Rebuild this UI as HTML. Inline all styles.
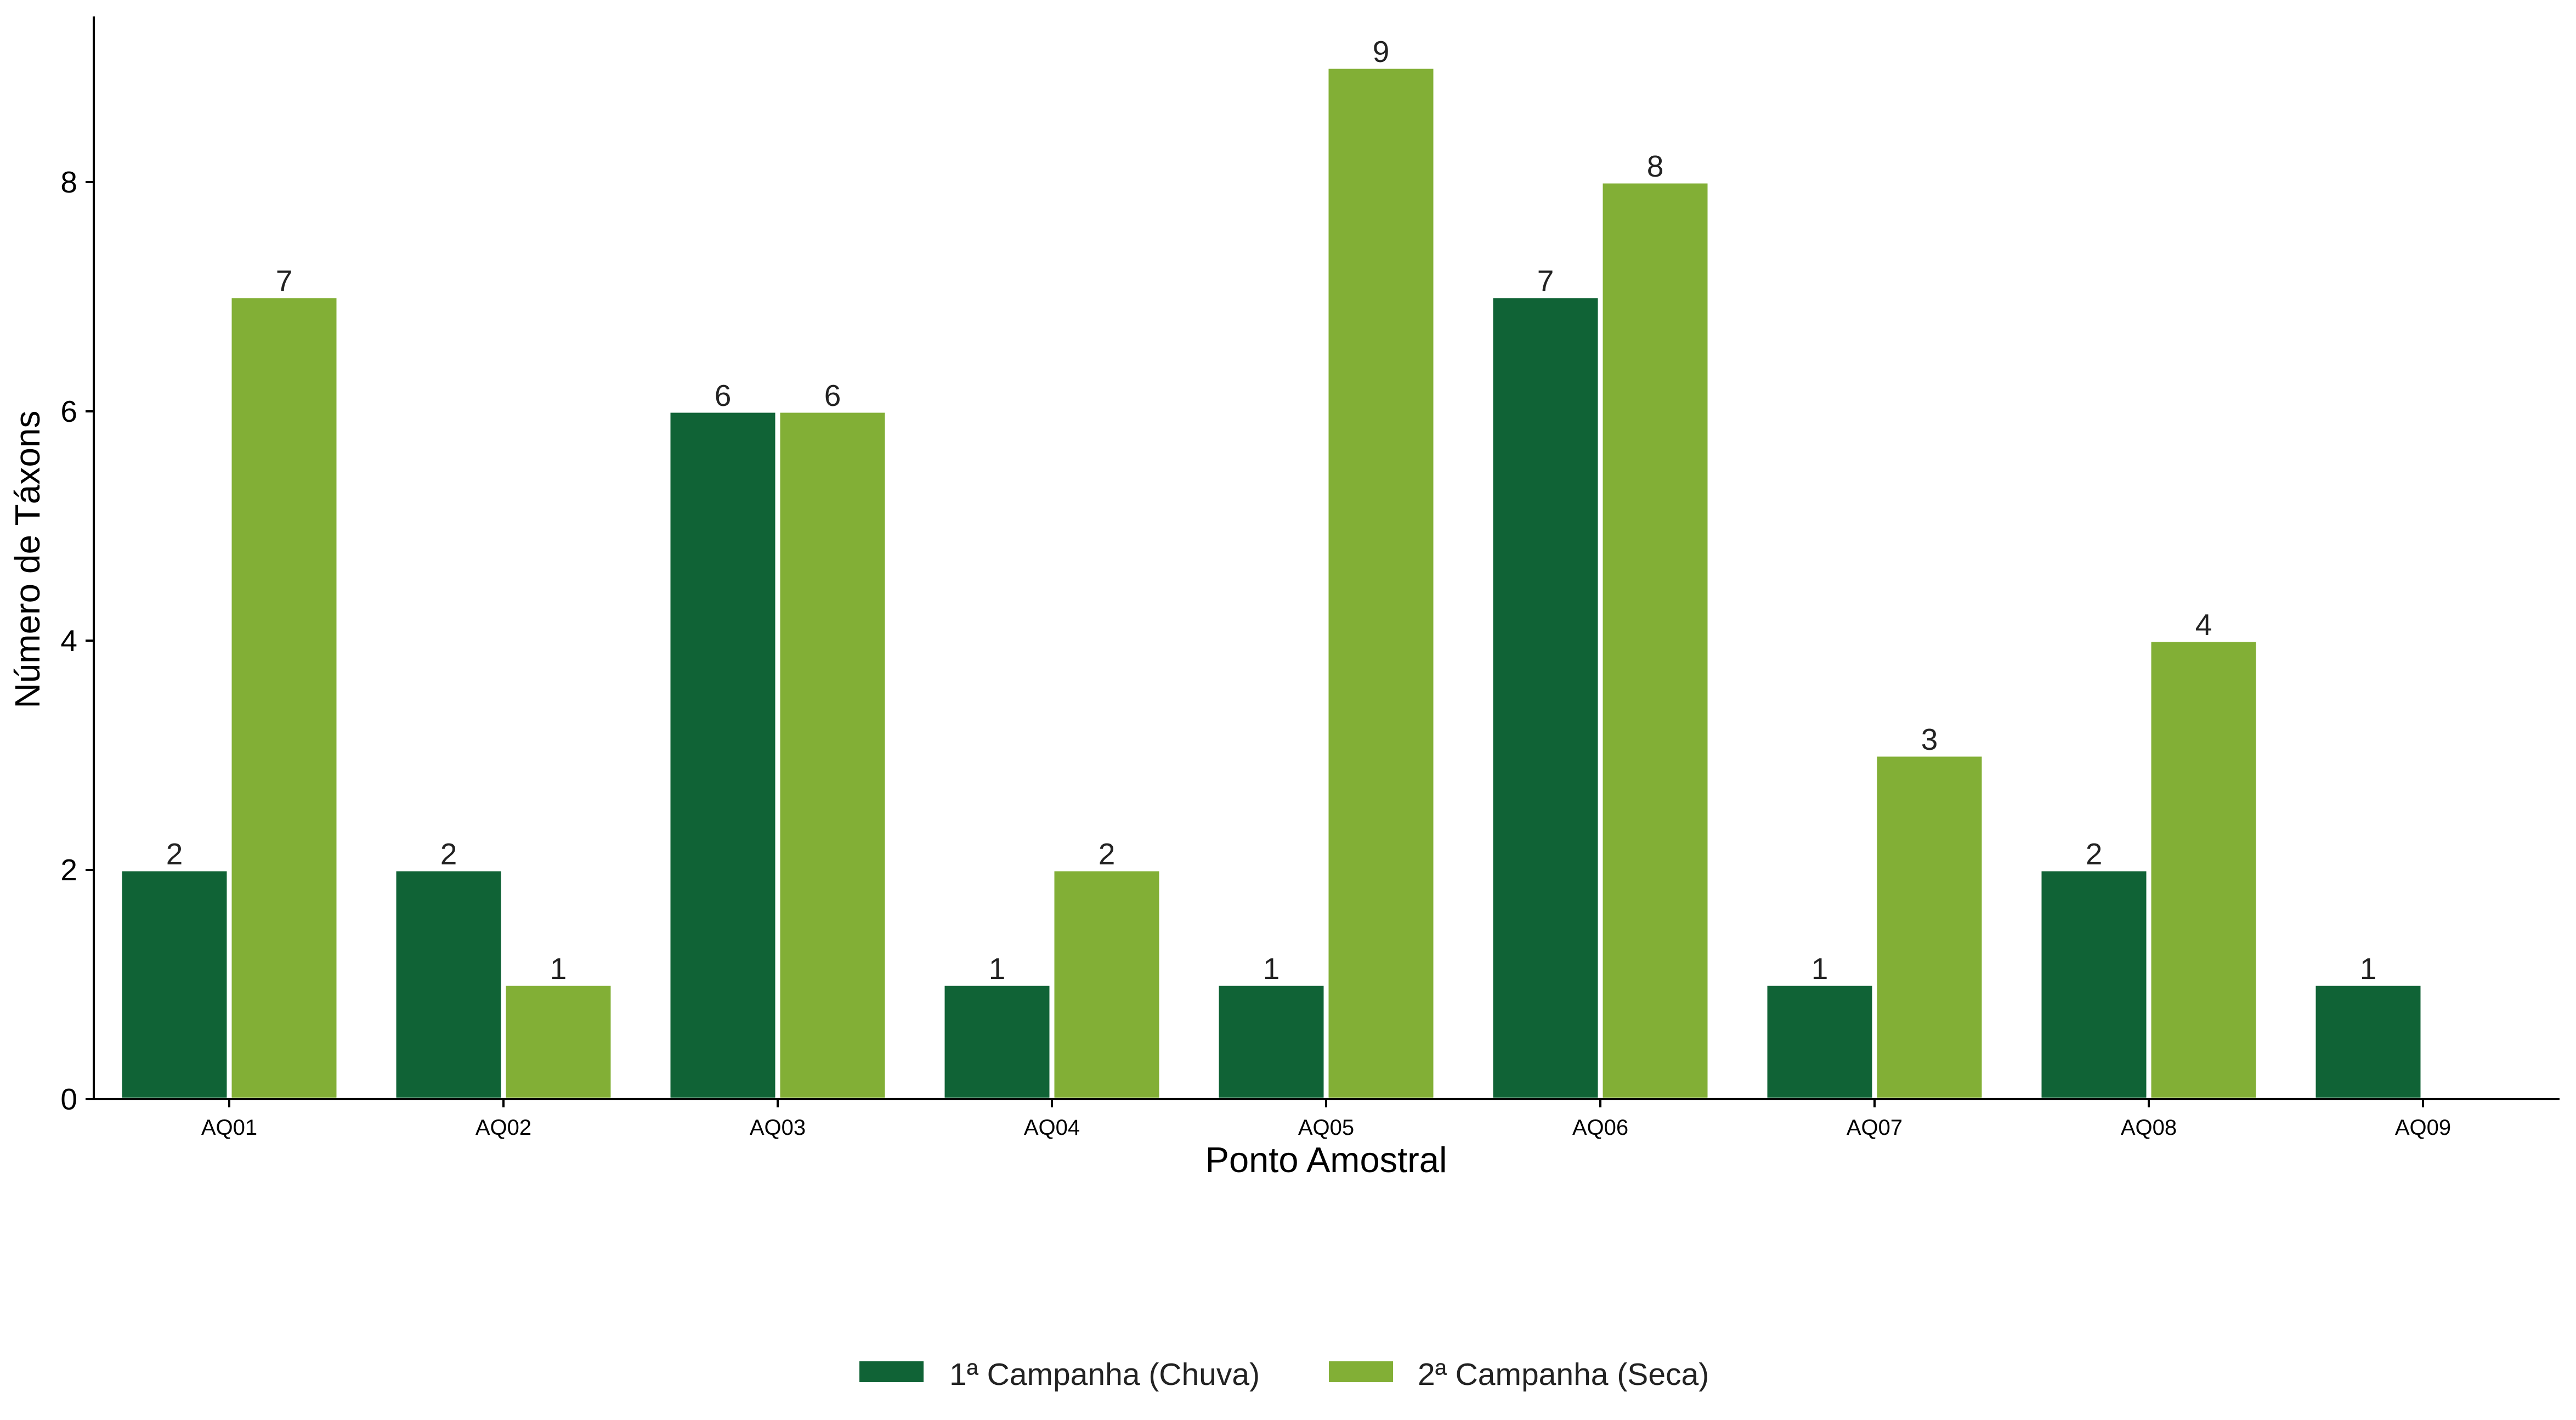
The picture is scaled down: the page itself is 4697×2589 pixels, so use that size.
<!DOCTYPE html>
<html><head><meta charset="utf-8"><style>
html,body{margin:0;padding:0;background:#fff;}
svg{display:block;font-family:"Liberation Sans",Arial,sans-serif;}
</style></head><body>
<svg id="chart" width="4697" height="2589" viewBox="0 0 4697 2589" xmlns="http://www.w3.org/2000/svg">
<rect width="4697" height="2589" fill="#fff"/>
<g id="bars"></g>
<g id="labels"></g>
<g id="axes"></g>
<text x="0" y="0" transform="translate(72,1020) rotate(-90)" text-anchor="middle" font-size="64" fill="#000">Número de Táxons</text>
<text x="2418" y="2137" text-anchor="middle" font-size="65" fill="#000">Ponto Amostral</text>
<g>
<rect x="1567" y="2482" width="117" height="38" fill="#106336"/>
<text x="1731" y="2525" font-size="57" fill="#222">1ª Campanha (Chuva)</text>
<rect x="2423" y="2482" width="117" height="38" fill="#82AF36"/>
<text x="2585" y="2525" font-size="57" fill="#222">2ª Campanha (Seca)</text>
</g>
</svg>
<script>
const categories = ["AQ01","AQ02","AQ03","AQ04","AQ05","AQ06","AQ07","AQ08","AQ09"];
const chuva = [2,2,6,1,1,7,1,2,1];
const seca = [7,1,6,2,9,8,3,4,0];
const yTicks = [0,2,4,6,8];
const colors = ["#106336","#82AF36"];

const NS = "http://www.w3.org/2000/svg";
const x0 = 171, x1 = 4667, yBase = 2004, unit = 209;
const firstC = 418, step = 500, barW = 196;
function xScale(i){ return firstC + i*step; }
function yScale(v){ return yBase - v*unit; }
function mk(tag, attrs, parent){ const e=document.createElementNS(NS,tag); for(const k in attrs) e.setAttribute(k,attrs[k]); parent.appendChild(e); return e; }

const barsG = document.getElementById('bars');
const labG = document.getElementById('labels');
const axG = document.getElementById('axes');
const series = [chuva, seca];
series.forEach((s, si) => {
  s.forEach((v, i) => {
    const cx = xScale(i);
    const bx = si===0 ? cx - barW - 2 : cx + 2;
    if (v > 0) {
      const r = mk('rect', {x:bx, y:yScale(v), width:barW, height:yBase - yScale(v), fill:colors[si], stroke:'#fff', 'stroke-width':5}, barsG);
      
      
      const t = mk('text', {x:bx+barW/2, y:yScale(v)-10, 'text-anchor':'middle', 'font-size':55, fill:'#222'}, labG);
      t.textContent = v;
      
      
    }
  });
});

const yl = mk('line', {x1:x0, y1:30, x2:x0, y2:yBase+2, stroke:'#000', 'stroke-width':4}, axG);


const xl = mk('line', {x1:x0-15, y1:yBase, x2:x1, y2:yBase, stroke:'#000', 'stroke-width':4}, axG);


yTicks.forEach(v => {
  const tk = mk('line', {x1:x0-15, y1:yScale(v), x2:x0, y2:yScale(v), stroke:'#000', 'stroke-width':4}, axG);
  
  
  const t = mk('text', {x:x0-30, y:yScale(v)+19, 'text-anchor':'end', 'font-size':55, fill:'#000'}, axG);
  t.textContent = v;
  
  
});
categories.forEach((c, i) => {
  const tk = mk('line', {x1:xScale(i), y1:yBase, x2:xScale(i), y2:yBase+15, stroke:'#000', 'stroke-width':4}, axG);
  
  
  const t = mk('text', {x:xScale(i), y:2069, 'text-anchor':'middle', 'font-size':40, fill:'#000'}, axG);
  t.textContent = c;
  
  
});
</script>
</body></html>
